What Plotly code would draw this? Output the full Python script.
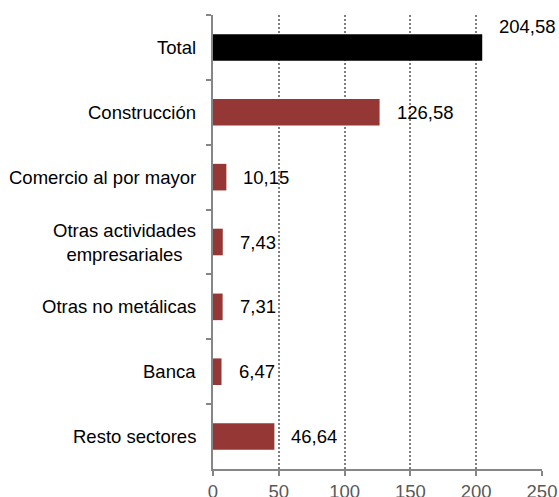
import plotly.graph_objects as go

categories = ["Total", "Construcción", "Comercio al por mayor",
              "Otras actividades<br>empresariales", "Otras no metálicas",
              "Banca", "Resto sectores"]
values = [204.58, 126.58, 10.15, 7.43, 7.31, 6.47, 46.64]
value_labels = ["204,58", "126,58", "10,15", "7,43", "7,31", "6,47", "46,64"]
colors = ["#000000"] + ["#953735"] * 6
x_ticks = [0, 50, 100, 150, 200, 250]

FONT = "Liberation Sans, Arial, sans-serif"

fig = go.Figure()
fig.add_trace(go.Bar(
    y=categories, x=values, orientation="h",
    marker=dict(color=colors, line=dict(width=0)),
    width=0.41, hoverinfo="skip",
))

annotations = []
for i, (c, v, lab) in enumerate(zip(categories, values, value_labels)):
    annotations.append(dict(
        x=v, y=c, xref="x", yref="y", text=lab, showarrow=False,
        xanchor="left", yanchor="middle", xshift=15,
        yshift=21 if i == 0 else 0,
        font=dict(family=FONT, size=18.5, color="#000000"),
    ))
    annotations.append(dict(
        x=0, y=c, xref="paper", yref="y", text=c, showarrow=False,
        xanchor="right", yanchor="middle", xshift=-15, align="center",
        font=dict(family=FONT, size=18.5, color="#000000"),
    ))

fig.update_layout(
    width=559, height=497,
    margin=dict(l=213, r=17, t=15, b=28),
    paper_bgcolor="white", plot_bgcolor="white",
    showlegend=False, bargap=0.59,
    annotations=annotations,
    font=dict(family=FONT, size=18.5, color="#595959"),
    xaxis=dict(
        range=[0, 250], tickvals=x_ticks, ticktext=[str(t) for t in x_ticks],
        showgrid=True, gridcolor="#7f7f7f", griddash="2px,2px", gridwidth=1.5,
        showline=True, linecolor="#868686", linewidth=2,
        ticks="outside", ticklen=5, tickcolor="#868686", tickwidth=2,
        zeroline=False, fixedrange=True, automargin=False,
        tickfont=dict(family=FONT, size=18.5, color="#595959"),
    ),
    yaxis=dict(
        autorange="reversed", showticklabels=False,
        showline=True, linecolor="#868686", linewidth=2,
        ticks="outside", ticklen=5, tickcolor="#868686", tickwidth=2,
        tickson="boundaries", showgrid=False, zeroline=False,
        automargin=False, fixedrange=True,
    ),
)

fig.write_html(
    "out.html",
    config={"displayModeBar": False},
    post_script="document.body.style.margin='0';document.body.style.overflow='hidden';",
)
